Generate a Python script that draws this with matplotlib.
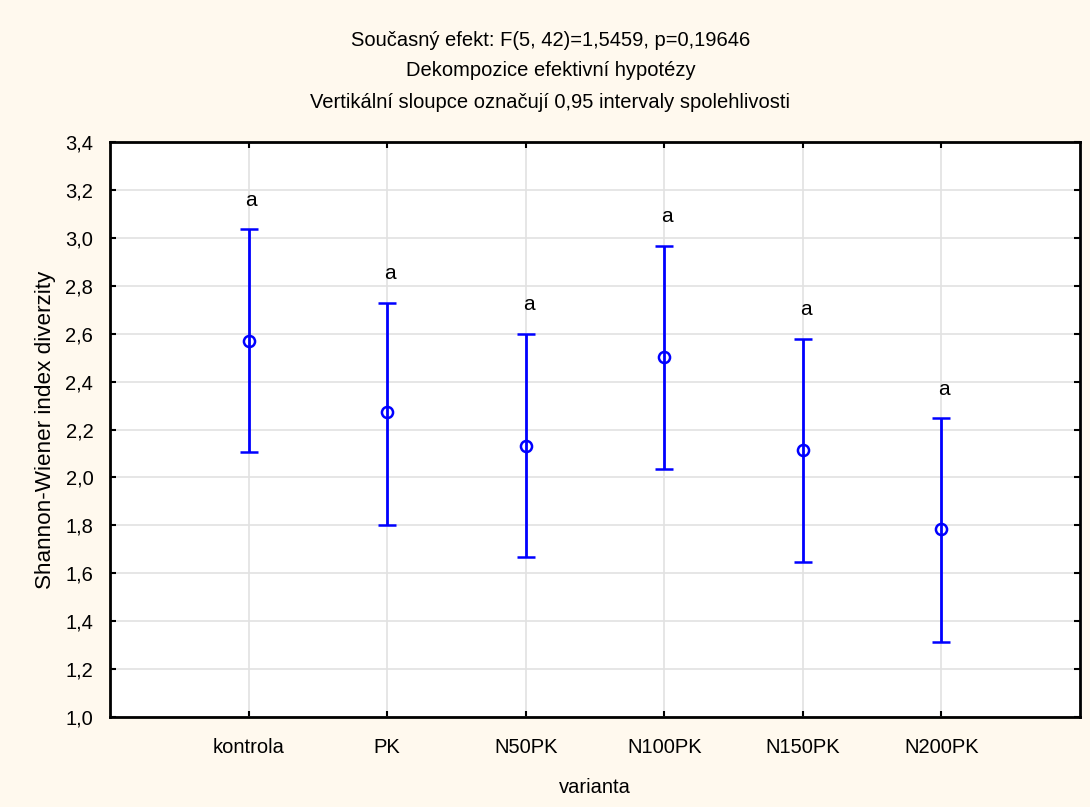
import numpy as np
import matplotlib.pyplot as plt

plt.rcParams['font.family'] = ['Liberation Sans', 'DejaVu Sans']

# průměry a 0,95 intervaly spolehlivosti pro jednotlivé varianty
varianty = ['kontrola', 'PK', 'N50PK', 'N100PK', 'N150PK', 'N200PK']
prumery = [2.571, 2.273, 2.133, 2.502, 2.115, 1.785]
dolni_mez = [2.105, 1.800, 1.667, 2.035, 1.646, 1.315]
horni_mez = [3.038, 2.730, 2.600, 2.968, 2.579, 2.249]
skupiny = ['a', 'a', 'a', 'a', 'a', 'a']

titulek = ['Současný efekt: F(5, 42)=1,5459, p=0,19646',
           'Dekompozice efektivní hypotézy',
           'Vertikální sloupce označují 0,95 intervaly spolehlivosti']

x = np.arange(1, len(varianty) + 1)
prumery = np.array(prumery)
chyba = [prumery - np.array(dolni_mez), np.array(horni_mez) - prumery]

fig = plt.figure(figsize=(10.9, 8.07), dpi=100, facecolor='#fff9ee')
ax = fig.add_axes([0.1009, 0.1115, 0.8899, 0.7125])
ax.set_facecolor('white')

ax.errorbar(x, prumery, yerr=chyba, fmt='o', color='#0000ff', ecolor='#0000ff',
            elinewidth=2, capsize=6.5, capthick=2, markersize=8,
            markerfacecolor='none', markeredgewidth=1.8, zorder=3)

# písmena homogenních skupin nad horní mezí
for xi, hi, s in zip(x, horni_mez, skupiny):
    ax.text(xi + 0.02, hi + 0.12, s, ha='center', va='center', fontsize=15)

ax.set_xlim(0, len(varianty) + 1)
ax.set_ylim(1.0, 3.4)
ax.set_xticks(x)
ax.set_xticklabels(varianty)
ax.set_yticks(np.arange(1.0, 3.41, 0.2))
ax.set_yticklabels([f'{v:.1f}'.replace('.', ',') for v in np.arange(1.0, 3.41, 0.2)])
ax.grid(True, color='#e2e2e2', linewidth=1.2, zorder=0)
ax.set_axisbelow(True)

ax.tick_params(axis='both', direction='in', length=4, width=1.5, top=True, right=True,
               labelsize=14.5)
ax.tick_params(axis='x', pad=15)
ax.tick_params(axis='y', pad=12)
for sp in ax.spines.values():
    sp.set_linewidth(2)
    sp.set_color('black')

ax.set_xlabel('varianta', fontsize=14.5, labelpad=15)
ax.set_ylabel('Shannon-Wiener index diverzity', fontsize=16.2, labelpad=7)

for i, t in enumerate(titulek):
    fig.text(0.505, 1 - (40 + 31 * i) / 807, t, ha='center', va='center', fontsize=14.5)

plt.savefig('out.png', dpi=100, facecolor=fig.get_facecolor())
